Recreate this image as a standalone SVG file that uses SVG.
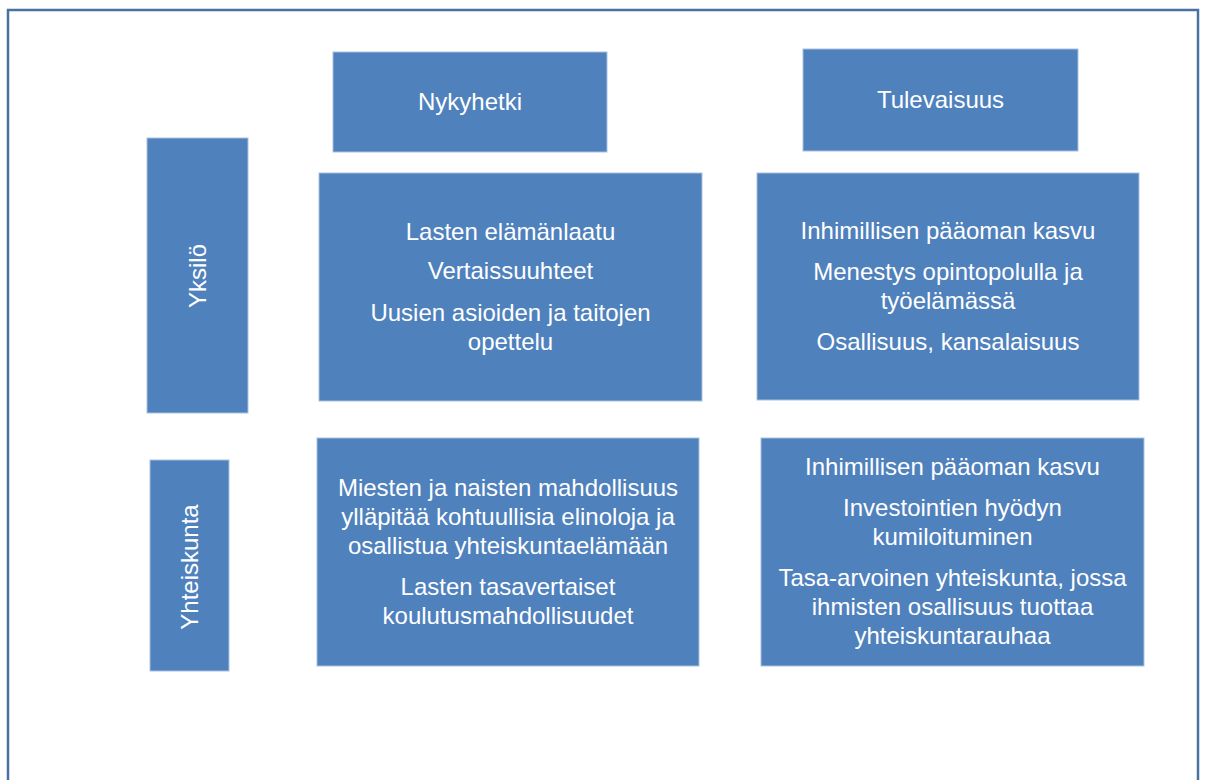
<svg xmlns="http://www.w3.org/2000/svg" width="1205" height="780" viewBox="0 0 1205 780">
  <style>
    .box { fill: #4f81bd; stroke: #a9c0e0; stroke-width: 1; }
    .lbl { font-family: "Liberation Sans", Arial, sans-serif; font-size: 24px; fill: #ffffff; text-anchor: middle; }
  </style>
  <rect width="1205" height="780" fill="#ffffff"/>
  <!-- outer frame (bottom edge runs off the canvas) -->
  <rect x="8" y="10" width="1190" height="790" fill="none" stroke="#4a72a0" stroke-width="2.5"/>

  <g id="nykyhetki">
    <rect class="box" x="333" y="52" width="274" height="100"/>
    <text class="lbl" x="470" y="110">Nykyhetki</text>
  </g>
  <g id="tulevaisuus">
    <rect class="box" x="803" y="49" width="275" height="102"/>
    <text class="lbl" x="940.5" y="108">Tulevaisuus</text>
  </g>

  <g id="yksilo">
    <rect class="box" x="147" y="138" width="101" height="275"/>
    <text class="lbl" transform="translate(206,276) rotate(-90)">Yksilö</text>
  </g>
  <g id="yhteiskunta">
    <rect class="box" x="150" y="460" width="79" height="211"/>
    <text class="lbl" transform="translate(198,567) rotate(-90)">Yhteiskunta</text>
  </g>

  <g id="yksilo-nykyhetki">
    <rect class="box" x="319" y="173" width="383" height="228"/>
    <text class="lbl" x="510.5" y="240">Lasten elämänlaatu</text>
    <text class="lbl" x="510.5" y="279">Vertaissuuhteet</text>
    <text class="lbl" x="510.5" y="321">Uusien asioiden ja taitojen</text>
    <text class="lbl" x="510.5" y="350">opettelu</text>
  </g>

  <g id="yksilo-tulevaisuus">
    <rect class="box" x="757" y="173" width="382" height="227"/>
    <text class="lbl" x="948" y="239">Inhimillisen pääoman kasvu</text>
    <text class="lbl" x="948" y="280">Menestys opintopolulla ja</text>
    <text class="lbl" x="948" y="309">työelämässä</text>
    <text class="lbl" x="948" y="350">Osallisuus, kansalaisuus</text>
  </g>

  <g id="yhteiskunta-nykyhetki">
    <rect class="box" x="317" y="438" width="382" height="228"/>
    <text class="lbl" x="508" y="496">Miesten ja naisten mahdollisuus</text>
    <text class="lbl" x="508" y="525">ylläpitää kohtuullisia elinoloja ja</text>
    <text class="lbl" x="508" y="554">osallistua yhteiskuntaelämään</text>
    <text class="lbl" x="508" y="595">Lasten tasavertaiset</text>
    <text class="lbl" x="508" y="624">koulutusmahdollisuudet</text>
  </g>

  <g id="yhteiskunta-tulevaisuus">
    <rect class="box" x="761" y="438" width="383" height="228"/>
    <text class="lbl" x="952.5" y="475">Inhimillisen pääoman kasvu</text>
    <text class="lbl" x="952.5" y="516">Investointien hyödyn</text>
    <text class="lbl" x="952.5" y="545">kumiloituminen</text>
    <text class="lbl" x="952.5" y="586">Tasa-arvoinen yhteiskunta, jossa</text>
    <text class="lbl" x="952.5" y="615">ihmisten osallisuus tuottaa</text>
    <text class="lbl" x="952.5" y="644">yhteiskuntarauhaa</text>
  </g>

  <g id="connectors"/>
</svg>
